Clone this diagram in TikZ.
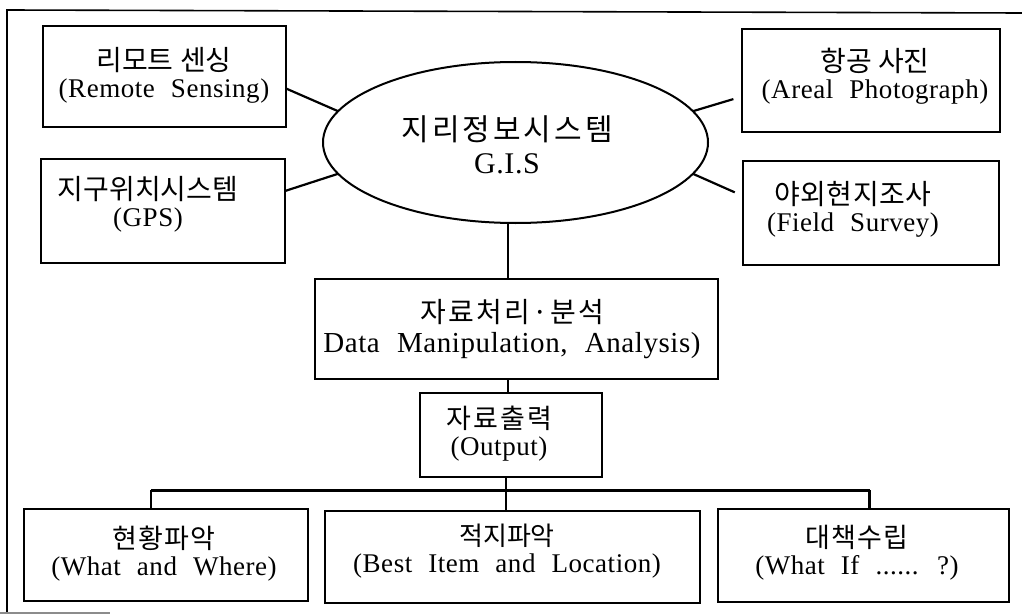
\documentclass[tikz,border=0pt]{standalone}
\usepackage{fontspec}
\setmainfont{Liberation Serif}[LetterSpace=2, WordSpace=2.2]
\newfontfamily\korfont{Noto Sans CJK KR}
\newcommand\ko[3][28]{{\korfont\fontsize{#1}{27}\selectfont\addfontfeature{LetterSpace=#2}#3}}
\usetikzlibrary{shapes.geometric}
\tikzset{
  box/.style={draw, line width=2pt, rectangle, outer sep=0pt, inner sep=0pt},
  txt/.style={align=center, inner sep=0pt, font=\fontsize{27}{27}\selectfont},
  link/.style={line width=2.2pt},
  bus/.style={line width=3pt},
  frameline/.style={line width=1.6pt}
}
\begin{document}
\begin{tikzpicture}[x=1pt, y=-1pt]
  \useasboundingbox (0,0) rectangle (1022,615);

  % page frame
  \draw[frameline] (1022,13) -- (7,10) -- (7,612);
  \draw[frameline, black!45] (0,613) -- (110,613);

  % central system
  \node[draw, ellipse, line width=2pt, outer sep=0pt, inner sep=0pt,
        minimum width=385pt, minimum height=161pt] (gis) at (515.5,142.5) {};
  \node[txt, font=\fontsize{30}{33}\selectfont] (gis-t) at (507,145)
    {\ko[30]{10}{지리정보시스템}\\G.I.S};

  % data sources
  \node[box, minimum width=243pt, minimum height=101pt] (rs) at (164.5,76.5) {};
  \node[txt] (rs-t) at (164,75) {\ko{0}{리모트 센싱}\\(Remote Sensing)};

  \node[box, minimum width=244pt, minimum height=104pt] (gps) at (163,211) {};
  \node[txt] (gps-t) at (148,204.5) {\ko{0}{지구위치시스템}\\(GPS)};

  \node[box, minimum width=258pt, minimum height=103pt] (ap) at (871,80.5) {};
  \node[txt] (ap-t) at (875,76) {\ko{0}{항공 사진}\\(Areal Photograph)};

  \node[box, minimum width=256pt, minimum height=104pt] (fs) at (871,213) {};
  \node[txt] (fs-t) at (853,209) {\ko{2}{야외현지조사}\\(Field Survey)};

  % processing chain
  \node[box, minimum width=403pt, minimum height=100pt] (data) at (516.5,329) {};
  \node[txt, font=\fontsize{29}{30}\selectfont] (data-t) at (512,329)
    {\ko{8}{자료처리·분석}\\Data Manipulation, Analysis)};

  \node[box, minimum width=182pt, minimum height=84pt] (out) at (511,435) {};
  \node[txt] (out-t) at (499,434) {\ko[27]{8}{자료출력}\\(Output)};

  % results
  \node[box, minimum width=284pt, minimum height=92pt] (b1) at (166,555) {};
  \node[txt] (b1-t) at (164,554) {\ko[27]{4}{현황파악}\\(What and Where)};

  \node[box, minimum width=375pt, minimum height=92pt] (b2) at (512.5,557) {};
  \node[txt] (b2-t) at (507,551) {\ko[26]{0}{적지파악}\\(Best Item and Location)};

  \node[box, minimum width=291pt, minimum height=93pt] (b3) at (863.5,555.5) {};
  \node[txt] (b3-t) at (857,553) {\ko[27]{4}{대책수립}\\(What If ...... ?)};

  % sources to the system
  \draw[link] ([yshift=-12pt]rs.east) -- (gis.170);
  \draw[link] ([yshift=20pt]gps.east) -- (gis.190);
  \draw[link, shorten >=9pt] (gis.10) -- ([yshift=-16pt]ap.west);
  \draw[link, shorten >=9pt] (gis.-10) -- ([yshift=17pt]fs.west);

  % system to processing to output
  \draw[link] ([xshift=-7.5pt]gis.south) -- ([xshift=-7.5pt]gis.south |- data.north);
  \draw[link] ([xshift=-8.5pt]data.south) -- ([xshift=-8.5pt]data.south |- out.north);

  % output distributed to the results
  \coordinate (busL) at ([xshift=-15pt]b1.north |- 0,490);
  \coordinate (busR) at ([xshift=6pt]b3.north |- 0,490);
  \draw[bus] (busL) -- (busR);
  \draw[link] ([xshift=-5pt]out.south) -- ([xshift=-5pt]out.south |- b2.north);
  \draw[link] (busL) -- (busL |- b1.north);
  \draw[link] (busR) -- (busR |- b3.north);
\end{tikzpicture}
\end{document}
